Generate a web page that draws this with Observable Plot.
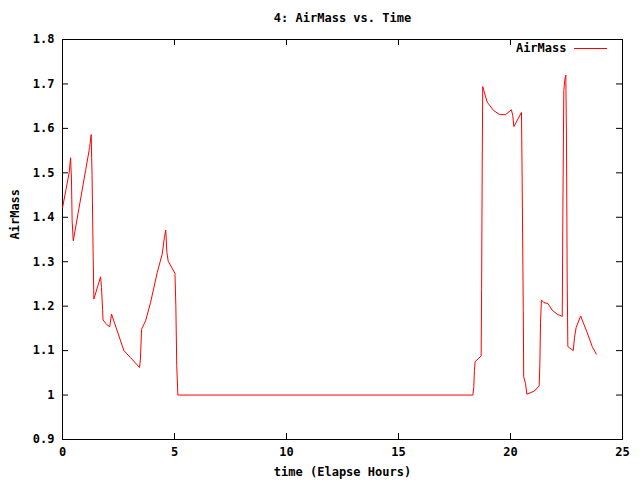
<!DOCTYPE html>
<html>
<head>
<meta charset="utf-8">
<script src="https://cdn.jsdelivr.net/npm/d3@7"></script>
<script src="https://cdn.jsdelivr.net/npm/@observablehq/plot@0.6"></script>
<style>
  html, body { margin: 0; padding: 0; background: #fff; }
</style>
</head>
<body>
<div id="chart"></div>
<script>
const title = "4: AirMass vs. Time";
const xLabel = "time (Elapse Hours)";
const yLabel = "AirMass";
const seriesName = "AirMass";
const xTicks = [0, 5, 10, 15, 20, 25];
const yTicks = [0.9, 1, 1.1, 1.2, 1.3, 1.4, 1.5, 1.6, 1.7, 1.8];

const time = [
  0.00, 0.30, 0.36, 0.40, 0.43, 0.48, 1.03, 1.21, 1.28, 1.32, 1.37, 1.40,
  1.70, 1.74, 1.79, 1.81, 1.99, 2.11, 2.19, 2.74, 3.04, 3.44, 3.48, 3.53,
  3.71, 3.93, 4.23, 4.45, 4.55, 4.61, 4.66, 4.72, 5.02, 5.06, 5.10, 5.15,
  18.32, 18.36, 18.39, 18.42, 18.69, 18.71, 18.74, 18.76, 18.81, 18.96, 19.25,
  19.52, 19.78, 20.04, 20.10, 20.15, 20.49, 20.52, 20.57, 20.59, 20.67, 20.73,
  21.07, 21.28, 21.31, 21.34, 21.38, 21.49, 21.67, 21.86, 22.08, 22.31, 22.34,
  22.38, 22.42, 22.47, 22.50, 22.53, 22.56, 22.80, 22.86, 22.93, 23.13, 23.42,
  23.65, 23.83
];
const airmass = [
  1.421, 1.501, 1.534, 1.486, 1.392, 1.347, 1.505, 1.557, 1.586, 1.494, 1.310, 1.216,
  1.266, 1.242, 1.193, 1.169, 1.158, 1.154, 1.182, 1.100, 1.084, 1.062, 1.081, 1.148,
  1.167, 1.208, 1.276, 1.317, 1.355, 1.371, 1.321, 1.301, 1.274, 1.201, 1.066, 1.000,
  1.000, 1.017, 1.055, 1.075, 1.088, 1.238, 1.540, 1.694, 1.685, 1.659, 1.640,
  1.631, 1.631, 1.642, 1.629, 1.604, 1.636, 1.486, 1.190, 1.041, 1.026, 1.002,
  1.009, 1.021, 1.068, 1.163, 1.214, 1.208, 1.206, 1.191, 1.182, 1.177, 1.426,
  1.685, 1.708, 1.720, 1.569, 1.261, 1.109, 1.100, 1.130, 1.152, 1.178, 1.141,
  1.109, 1.092
];

const data = time.map((t, i) => ({t, v: airmass[i]}));

const W = 640, H = 480;
const mL = 62, mR = 18, mT = 39, mB = 41;
const innerH = H - mT - mB, innerW = W - mL - mR;
const tick = 6;
const font = "'DejaVu Sans Mono', 'Liberation Mono', monospace";

const chart = Plot.plot({
  width: W,
  height: H,
  marginLeft: mL,
  marginRight: mR,
  marginTop: mT,
  marginBottom: mB,
  style: {fontFamily: font, fontSize: "12px", fontWeight: "bold", color: "#000", background: "#fff"},
  x: {domain: [0, 25]},
  y: {domain: [0.9, 1.8]},
  marks: [
    Plot.frame({stroke: "#000", strokeWidth: 1}),
    Plot.tickX(xTicks, {x: d => d, insetTop: innerH - tick, stroke: "#000"}),
    Plot.tickX(xTicks, {x: d => d, insetBottom: innerH - tick, stroke: "#000"}),
    Plot.tickY(yTicks, {y: d => d, insetRight: innerW - tick, stroke: "#000"}),
    Plot.tickY(yTicks, {y: d => d, insetLeft: innerW - tick, stroke: "#000"}),
    Plot.axisX(xTicks, {tickSize: 0, tickPadding: 8, label: null, tickFormat: d => String(d)}),
    Plot.axisY(yTicks, {tickSize: 0, tickPadding: 8, label: null, tickFormat: d => d3.format("~g")(d)}),
    Plot.line(data, {x: "t", y: "v", stroke: "#ff0000", strokeWidth: 1}),
    Plot.text([title], {frameAnchor: "top", lineAnchor: "middle", dy: -21, text: d => d, fill: "#000"}),
    Plot.text([xLabel], {frameAnchor: "bottom", lineAnchor: "middle", dy: 33, text: d => d, fill: "#000"}),
    Plot.text([yLabel], {frameAnchor: "left", lineAnchor: "middle", dx: -47, rotate: -90, text: d => d, fill: "#000"}),
    Plot.text([seriesName], {frameAnchor: "top-right", lineAnchor: "middle", dx: -56, dy: 9, textAnchor: "end", text: d => d, fill: "#000"})
  ]
});

// legend sample line
d3.select(chart).append("line")
  .attr("x1", W - mR - 48).attr("x2", W - mR - 15)
  .attr("y1", mT + 9.5).attr("y2", mT + 9.5)
  .attr("stroke", "#ff0000").attr("stroke-width", 1);

document.getElementById("chart").appendChild(chart);
</script>
</body>
</html>
